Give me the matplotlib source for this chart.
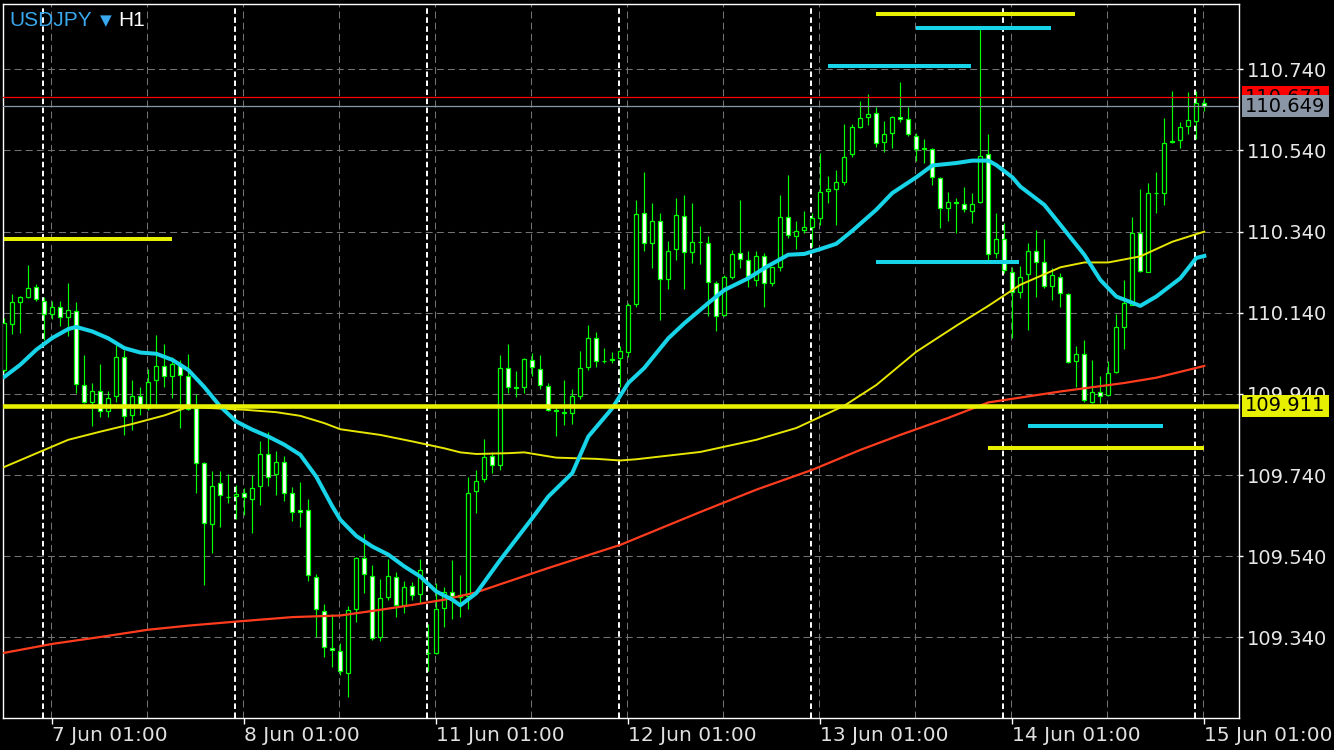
import matplotlib
matplotlib.use('Agg')
import matplotlib.pyplot as plt
from matplotlib import transforms
from matplotlib.patches import Rectangle

plt.rcParams['lines.scale_dashes'] = False
plt.rcParams['font.family'] = ['DejaVu Sans']

# hourly candles, first one is 6 Jun 19:00 (index -5), index 0 = 7 Jun 00:00
first_idx = -5
opens = [109.999, 110.112, 110.167, 110.180, 110.203, 110.169, 110.136, 110.154, 110.129, 110.144,
         109.961, 109.921, 109.946, 109.898, 109.934, 110.031, 109.888, 109.934, 109.905, 109.974,
         110.010, 109.983, 110.014, 109.983, 109.905, 109.769, 109.619, 109.720, 109.686, 109.688,
         109.696, 109.682, 109.712, 109.792, 109.742, 109.773, 109.696, 109.654, 109.654, 109.490,
         109.405, 109.314, 109.307, 109.252, 109.410, 109.535, 109.491, 109.341, 109.439, 109.489,
         109.419, 109.466, 109.447, 109.301, 109.301, 109.412, 109.452, 109.440, 109.441, 109.701,
         109.730, 109.787, 109.765, 110.004, 109.956, 109.957, 110.023, 110.001, 109.959, 109.900,
         109.893, 109.893, 109.936, 110.006, 110.077, 110.020, 110.024, 110.028, 110.044, 110.161,
         110.385, 110.311, 110.367, 110.223, 110.297, 110.378, 110.289, 110.314, 110.311, 110.213,
         110.135, 110.229, 110.288, 110.270, 110.221, 110.281, 110.213, 110.252, 110.377, 110.330,
         110.343, 110.352, 110.373, 110.439, 110.445, 110.463, 110.531, 110.597, 110.622, 110.632,
         110.560, 110.582, 110.622, 110.617, 110.576, 110.544, 110.543, 110.471, 110.398, 110.414,
         110.407, 110.392, 110.412, 110.531, 110.287, 110.321, 110.241, 110.191, 110.235, 110.291,
         110.265, 110.207, 110.229, 110.186, 110.020, 110.039, 109.921, 109.944, 109.938, 109.993,
         110.106, 110.159, 110.337, 110.241, 110.435, 110.435, 110.562, 110.566, 110.600, 110.613,
         110.656]
highs = [110.127, 110.187, 110.182, 110.258, 110.211, 110.178, 110.169, 110.169, 110.214, 110.167,
         110.036, 109.967, 110.014, 109.947, 110.061, 110.049, 109.975, 109.957, 110.001, 110.086,
         110.063, 110.032, 110.024, 110.039, 109.939, 109.773, 109.751, 109.751, 109.743, 109.716,
         109.708, 109.741, 109.824, 109.846, 109.800, 109.786, 109.710, 109.723, 109.681, 109.497,
         109.423, 109.398, 109.326, 109.418, 109.537, 109.594, 109.519, 109.483, 109.533, 109.501,
         109.478, 109.476, 109.533, 109.374, 109.474, 109.465, 109.531, 109.494, 109.736, 109.753,
         109.829, 109.797, 110.036, 110.063, 109.997, 110.028, 110.040, 110.036, 109.967, 109.909,
         109.975, 109.953, 110.046, 110.110, 110.092, 110.053, 110.043, 110.057, 110.165, 110.418,
         110.486, 110.410, 110.385, 110.317, 110.422, 110.430, 110.410, 110.354, 110.329, 110.219,
         110.233, 110.295, 110.418, 110.292, 110.291, 110.287, 110.253, 110.430, 110.480, 110.366,
         110.391, 110.387, 110.533, 110.477, 110.492, 110.605, 110.605, 110.662, 110.679, 110.646,
         110.613, 110.625, 110.708, 110.646, 110.582, 110.568, 110.545, 110.474, 110.438, 110.422,
         110.449, 110.435, 110.839, 110.581, 110.385, 110.361, 110.254, 110.255, 110.311, 110.344,
         110.322, 110.250, 110.238, 110.188, 110.057, 110.073, 110.024, 109.983, 110.021, 110.136,
         110.221, 110.377, 110.445, 110.461, 110.488, 110.621, 110.687, 110.611, 110.684, 110.687,
         110.669]
lows = [109.995, 110.087, 110.090, 110.177, 110.170, 110.073, 110.125, 110.108, 110.083, 109.943,
        109.917, 109.860, 109.884, 109.884, 109.921, 109.839, 109.852, 109.888, 109.901, 109.905,
        109.957, 109.931, 109.857, 109.901, 109.697, 109.470, 109.549, 109.613, 109.671, 109.631,
        109.642, 109.598, 109.667, 109.713, 109.691, 109.677, 109.627, 109.613, 109.480, 109.341,
        109.291, 109.268, 109.248, 109.193, 109.379, 109.449, 109.334, 109.330, 109.431, 109.391,
        109.400, 109.433, 109.424, 109.256, 109.299, 109.365, 109.386, 109.391, 109.410, 109.646,
        109.722, 109.746, 109.753, 109.942, 109.932, 109.942, 109.983, 109.953, 109.897, 109.837,
        109.864, 109.866, 109.928, 109.999, 110.007, 110.016, 110.017, 109.958, 110.032, 110.155,
        110.291, 110.250, 110.121, 110.198, 110.270, 110.198, 110.262, 110.260, 110.133, 110.094,
        110.133, 110.223, 110.250, 110.204, 110.207, 110.153, 110.207, 110.244, 110.324, 110.297,
        110.336, 110.303, 110.356, 110.410, 110.356, 110.455, 110.525, 110.596, 110.603, 110.549,
        110.537, 110.547, 110.611, 110.576, 110.515, 110.510, 110.455, 110.350, 110.365, 110.336,
        110.389, 110.362, 110.410, 110.270, 110.274, 110.237, 110.077, 110.176, 110.098, 110.180,
        110.201, 110.172, 110.155, 110.016, 109.958, 109.921, 109.917, 109.917, 109.934, 109.991,
        110.050, 110.158, 110.241, 110.240, 110.385, 110.406, 110.558, 110.547, 110.580, 110.569,
        110.636]
closes = [110.114, 110.166, 110.178, 110.200, 110.173, 110.136, 110.154, 110.130, 110.146, 109.964,
          109.920, 109.947, 109.898, 109.929, 110.031, 109.886, 109.934, 109.916, 109.969, 110.010,
          109.985, 110.013, 109.986, 109.903, 109.769, 109.622, 109.713, 109.691, 109.687, 109.693,
          109.686, 109.708, 109.792, 109.735, 109.773, 109.696, 109.649, 109.649, 109.494, 109.410,
          109.316, 109.309, 109.258, 109.407, 109.535, 109.496, 109.338, 109.437, 109.491, 109.419,
          109.464, 109.444, 109.506, 109.302, 109.410, 109.452, 109.441, 109.445, 109.696, 109.726,
          109.784, 109.765, 110.004, 109.957, 109.955, 110.026, 110.006, 109.961, 109.900, 109.899,
          109.895, 109.934, 110.004, 110.077, 110.020, 110.022, 110.025, 110.047, 110.159, 110.383,
          110.311, 110.367, 110.223, 110.292, 110.380, 110.289, 110.314, 110.315, 110.215, 110.132,
          110.228, 110.284, 110.272, 110.231, 110.281, 110.213, 110.252, 110.377, 110.332, 110.342,
          110.351, 110.373, 110.437, 110.445, 110.462, 110.525, 110.597, 110.619, 110.629, 110.558,
          110.580, 110.622, 110.617, 110.580, 110.543, 110.545, 110.474, 110.398, 110.412, 110.410,
          110.395, 110.407, 110.527, 110.284, 110.321, 110.246, 110.191, 110.229, 110.291, 110.266,
          110.207, 110.232, 110.188, 110.018, 110.039, 109.925, 109.944, 109.935, 109.991, 110.104,
          110.164, 110.337, 110.244, 110.435, 110.436, 110.558, 110.563, 110.597, 110.614, 110.656,
          110.649]

fast_ma_idx = [-5, -3, -1, 1, 3, 4, 6, 8, 10, 12, 14, 16, 18, 20, 22, 24, 26, 28, 30, 32, 34, 36, 37,
               39, 41, 43, 45, 47, 49, 51, 52, 54, 57, 61, 63, 66, 68, 71, 73, 75, 78, 80, 83, 85, 88,
               90, 93, 95, 97, 99, 101, 104, 106, 109, 111, 114, 116, 118, 119, 121, 122, 125, 127,
               130, 132, 134, 137, 139, 142, 144, 145]
fast_ma = [109.982, 110.012, 110.049, 110.078, 110.100, 110.105, 110.094, 110.077, 110.053, 110.042,
           110.039, 110.024, 109.999, 109.957, 109.909, 109.872, 109.852, 109.835, 109.815, 109.790,
           109.736, 109.663, 109.630, 109.590, 109.564, 109.544, 109.515, 109.490, 109.453, 109.433,
           109.419, 109.449, 109.531, 109.634, 109.687, 109.745, 109.835, 109.905, 109.967, 110.004,
           110.077, 110.114, 110.164, 110.196, 110.225, 110.250, 110.283, 110.285, 110.297, 110.310,
           110.342, 110.394, 110.435, 110.474, 110.503, 110.509, 110.515, 110.515, 110.504, 110.474,
           110.451, 110.406, 110.357, 110.283, 110.221, 110.180, 110.157, 110.180, 110.225, 110.275,
           110.280]
mid_ma_idx = [-5, 0, 3, 7, 11, 15, 18, 25, 29, 32, 35, 37, 42, 46, 50, 52, 54, 58, 60, 64, 69, 72,
              74, 82, 89, 94, 100, 104, 109, 114, 118, 122, 127, 130, 133, 137, 141, 145]
mid_ma = [109.760, 109.802, 109.827, 109.847, 109.866, 109.887, 109.908, 109.901, 109.895, 109.886,
          109.868, 109.853, 109.839, 109.823, 109.806, 109.796, 109.792, 109.794, 109.796, 109.783,
          109.780, 109.776, 109.779, 109.797, 109.827, 109.856, 109.911, 109.962, 110.044, 110.108,
          110.157, 110.209, 110.252, 110.264, 110.264, 110.279, 110.315, 110.340]
slow_ma_idx = [-5, 1, 7, 13, 18, 24, 31, 37, 42, 46, 50, 54, 63, 72, 82, 89, 96, 102, 107, 113, 118,
               127, 135, 139, 145]
slow_ma = [109.302, 109.324, 109.341, 109.359, 109.369, 109.379, 109.390, 109.394, 109.408, 109.420,
           109.433, 109.451, 109.511, 109.568, 109.649, 109.704, 109.753, 109.802, 109.839, 109.881,
           109.919, 109.946, 109.967, 109.980, 110.009]

# short level segments drawn on the chart
seg_start = [104, 109, 98, -5, 104, 123, 118]
seg_end = [128.8, 125.8, 115.8, 16.0, 121.8, 139.8, 144.9]
seg_price = [110.877, 110.842, 110.748, 110.322, 110.265, 109.861, 109.807]
seg_kind = ['y', 'c', 'c', 'y', 'c', 'c', 'y']

support_level = 109.911
ask_price = 110.671
bid_price = 110.649

price_ticks = [109.340, 109.540, 109.740, 109.940, 110.140, 110.340, 110.540, 110.740]
date_idx = [1, 25, 49, 73, 97, 121, 145]
date_labels = ['7 Jun 01:00', '8 Jun 01:00', '11 Jun 01:00', '12 Jun 01:00',
               '13 Jun 01:00', '14 Jun 01:00', '15 Jun 01:00']

GREEN = '#00ff00'
CYAN = '#18d4e8'
YELLOW = '#e6f000'
GRID = '#737373'

fig = plt.figure(figsize=(13.34, 7.5), dpi=100, facecolor='black')
ax = fig.add_axes([3 / 1334, 32 / 750, 1236 / 1334, 714 / 750], facecolor='black')
y_lo, y_hi = 109.1414, 110.9009
ax.set_xlim(-5.1625, 149.3375)
ax.set_ylim(y_lo, y_hi)

# grid
for p in price_ticks:
    ax.axhline(p, color=GRID, lw=0.75, dashes=(5, 3), zorder=1)
for i in range(1, 146, 12):
    ax.axvline(i - 0.15, color=GRID, lw=0.75, dashes=(5, 3), zorder=1)
for i in range(0, 145, 24):
    ax.axvline(i - 0.15, color='white', lw=1.4, dashes=(4, 2.5), zorder=1.5)

# candles
xs = list(range(first_idx, first_idx + len(opens)))
ax.vlines(xs, lows, highs, colors=GREEN, lw=0.85, zorder=3)
bottoms = [min(o, c) for o, c in zip(opens, closes)]
heights = [abs(c - o) for o, c in zip(opens, closes)]
faces = ['black' if c > o else 'white' for o, c in zip(opens, closes)]
ax.bar(xs, heights, bottom=bottoms, width=0.52, color=faces, edgecolor=GREEN,
       linewidth=0.9, zorder=4)

# moving averages
ax.plot(slow_ma_idx, slow_ma, color='#ff3c1e', lw=1.6, zorder=5)
ax.plot(mid_ma_idx, mid_ma, color='#e6e600', lw=1.4, zorder=5)
ax.plot(fast_ma_idx, fast_ma, color=CYAN, lw=2.9, zorder=6, solid_joinstyle='round')

# levels
ax.axhline(support_level, color=YELLOW, lw=3.3, zorder=7)
ax.axhline(ask_price, color='#ff0000', lw=0.9, zorder=7)
ax.axhline(bid_price, color='#8c98a8', lw=0.9, zorder=7)
for s, e, p, k in zip(seg_start, seg_end, seg_price, seg_kind):
    ax.hlines(p, s, e, colors=YELLOW if k == 'y' else CYAN, lw=2.9, zorder=7)

# axes styling
for sp in ax.spines.values():
    sp.set_color('white')
    sp.set_linewidth(1)
ax.yaxis.tick_right()
ax.set_yticks(price_ticks)
ax.set_yticklabels(['%.3f' % p for p in price_ticks])
ax.tick_params(axis='y', colors='white', labelcolor='#e8e8e8', length=3, width=1,
               pad=3, labelsize=14)
ax.set_xticks(date_idx)
ax.set_xticklabels(date_labels, ha='left')
ax.tick_params(axis='x', colors='white', labelcolor='#e0e0e0', length=4, width=1,
               pad=2, labelsize=14.5)

# overlay in pixel coordinates for title and price boxes
ov = fig.add_axes([0, 0, 1, 1], facecolor='none')
ov.set_xlim(0, 1334)
ov.set_ylim(750, 0)
ov.axis('off')
trans = transforms.blended_transform_factory(ov.transData, ax.transData)
half = 11 * (y_hi - y_lo) / 714

z = 10
for p, txt, col in [(ask_price, '110.671', '#ff0000'), (bid_price, '110.649', '#8a96a6'),
                    (support_level, '109.911', YELLOW)]:
    ov.add_patch(Rectangle((1241.5, p - half), 87, 2 * half, transform=trans,
                           facecolor=col, edgecolor='none', clip_on=False, zorder=z))
    ov.text(1285, p, txt, transform=trans, ha='center', va='center',
            color='black', fontsize=14, clip_on=False, zorder=z + 1)
    z += 2

ov.text(9, 20, 'USDJPY', color='#3aa8ee', fontsize=15, va='center', ha='left',
        family=['Liberation Sans', 'DejaVu Sans'])
ov.text(100, 21, '\u25bc', color='#3aa8ee', fontsize=11, va='center', ha='left')
ov.text(118, 20, 'H1', color='white', fontsize=15, va='center', ha='left',
        family=['Liberation Sans', 'DejaVu Sans'])

fig.savefig('out.png', dpi=100, facecolor='black')
